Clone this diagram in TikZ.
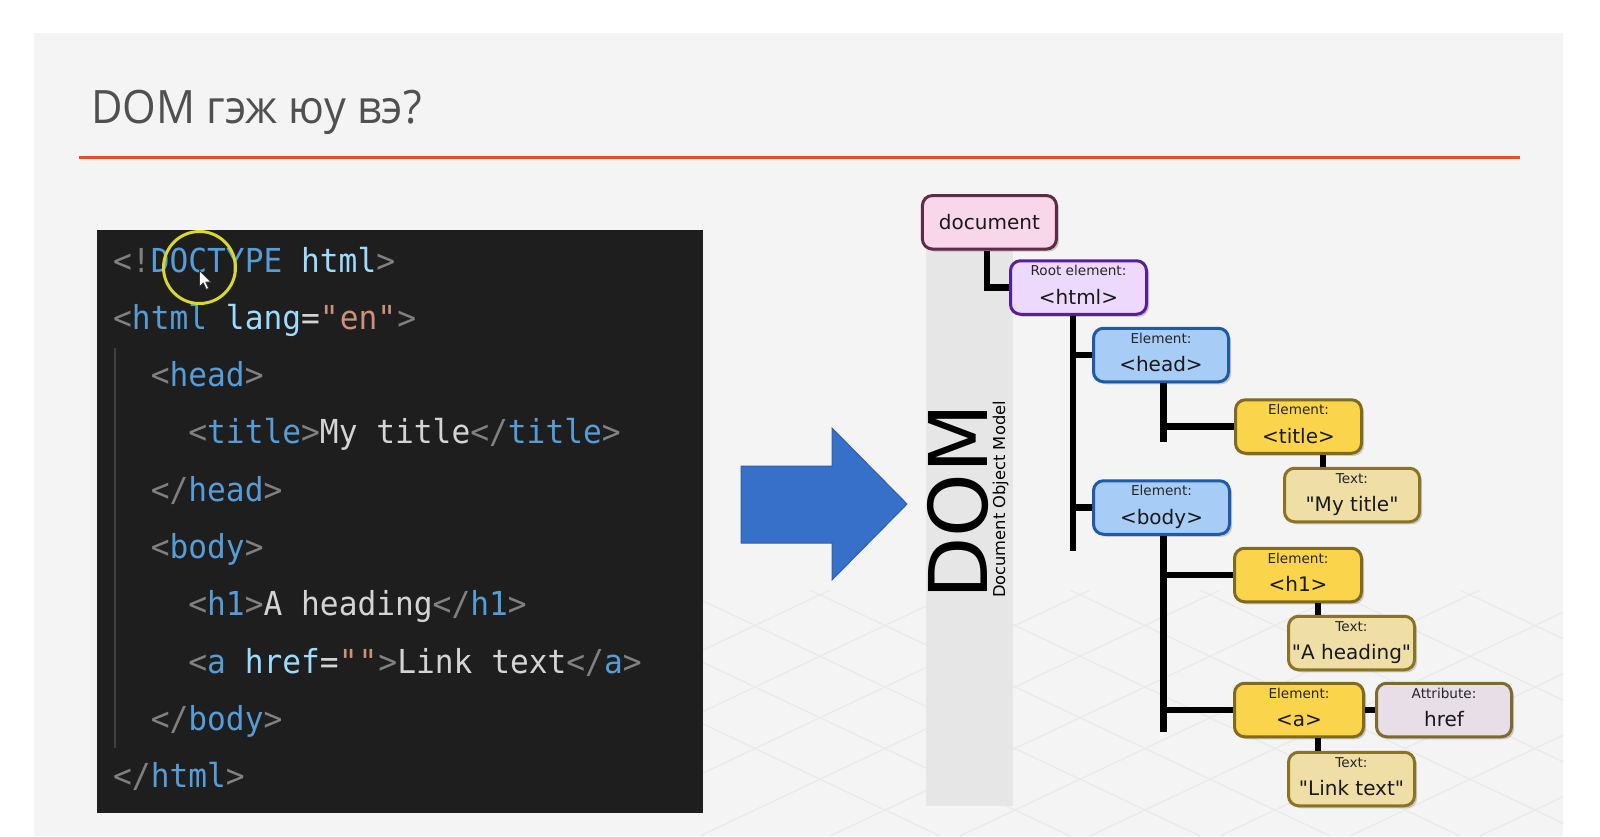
\documentclass[tikz,border=0pt]{standalone}
\usepackage{fontspec}
\usetikzlibrary{shadows}
\setmainfont{DejaVu Sans}
\newfontfamily\codefont[FakeStretch=0.946]{DejaVu Sans Mono}
\newfontfamily\titlefont[FakeStretch=0.94]{Open Sans}

% slide
\definecolor{slidebg}{HTML}{F4F4F4}
\definecolor{titlegray}{HTML}{505050}
\definecolor{rule}{HTML}{E2512C}
\definecolor{gridline}{HTML}{EAEAEA}
% editor
\definecolor{editorbg}{HTML}{1E1E1E}
\definecolor{guide}{HTML}{404040}
\definecolor{cpun}{HTML}{808080}
\definecolor{ctag}{HTML}{569CD6}
\definecolor{catt}{HTML}{9CDCFE}
\definecolor{cstr}{HTML}{CE9178}
\definecolor{ctxt}{HTML}{D4D4D4}
\definecolor{hilite}{HTML}{D8D82E}
% tree
\definecolor{docfill}{HTML}{F9D7EA}
\definecolor{docline}{HTML}{5F2B47}
\definecolor{rootfill}{HTML}{ECD9FB}
\definecolor{rootline}{HTML}{5B1E9A}
\definecolor{elfill}{HTML}{A7CDF7}
\definecolor{elline}{HTML}{1D5AA7}
\definecolor{yelfill}{HTML}{FAD54B}
\definecolor{yelline}{HTML}{7F6A1D}
\definecolor{txtfill}{HTML}{EFDFA6}
\definecolor{txtline}{HTML}{8A7424}
\definecolor{attfill}{HTML}{E7DEE8}
\definecolor{attline}{HTML}{7E6A2E}
\definecolor{band}{HTML}{E6E6E6}
\definecolor{arrowblue}{HTML}{3670C8}
\definecolor{arrowedge}{HTML}{2F5FAA}

% code colouring
\newcommand\cPun[1]{\textcolor{cpun}{#1}}
\newcommand\cTag[1]{\textcolor{ctag}{#1}}
\newcommand\cAtt[1]{\textcolor{catt}{#1}}
\newcommand\cStr[1]{\textcolor{cstr}{#1}}
\newcommand\cTxt[1]{\textcolor{ctxt}{#1}}
\newcommand\qq{\textquotedbl}

\tikzset{
  codeline/.style={anchor=base west, inner sep=0pt,
    font=\codefont\fontsize{33}{39}\selectfont, text=ctxt},
  treebox/.style={line width=3pt, rounded corners=10pt, minimum height=53.5pt,
    inner sep=0pt,
    drop shadow={shadow xshift=2.5pt, shadow yshift=-2.5pt, opacity=0.18, fill=black}},
  docbox/.style={treebox, fill=docfill, draw=docline},
  rootbox/.style={treebox, fill=rootfill, draw=rootline},
  elbox/.style={treebox, fill=elfill, draw=elline},
  yelbox/.style={treebox, fill=yelfill, draw=yelline},
  txtbox/.style={treebox, fill=txtfill, draw=txtline},
  attbox/.style={treebox, fill=attfill, draw=attline},
  smalllab/.style={anchor=base, inner sep=0pt,
    font=\fontsize{13.6}{16}\selectfont, text=black!85},
  biglab/.style={anchor=base, inner sep=0pt,
    font=\fontsize{20}{24}\selectfont, text=black!90},
  conn/.style={line width=6.5pt, black},
}

% box with a small caption line and a large content line
\newcommand\domnode[7]{%
  \node[#2, minimum width=#5] (#1) at (#3,#4) {};
  \node[smalllab] (#1-l) at ([yshift=-16.5pt]#1.north) {#6};
  \node[biglab] (#1-t) at ([yshift=-45pt]#1.north) {#7};
}

\begin{document}
\begin{tikzpicture}[x=1pt, y=-1pt]
\useasboundingbox (0,0) rectangle (1600,836);

% slide background
\fill[white] (0,0) rectangle (1600,836);
\fill[slidebg] (34,33) rectangle (1563,836);

% faint floor pattern
\begin{scope}
  \clip (690,590) rectangle (1563,836);
  \foreach \s in {0,...,12} {
    \draw[gridline, line width=1.2pt] (420+130*\s,590) -- ++(520,246);
    \draw[gridline, line width=1.2pt] (700+130*\s,590) -- ++(-520,246);
  }
\end{scope}

% heading
\node[anchor=base west, inner sep=0pt, font=\titlefont\fontsize{46}{50}\selectfont,
  text=titlegray] (heading) at (91,123) {DOM гэж юу вэ?};
\draw[rule, line width=3pt] (79,157) -- (1520,157);

% code editor
\fill[editorbg] (97,230) rectangle (703,813);
\draw[guide, line width=1.5pt] (115,348) -- (115,748);

\node[codeline] (c1) at (113,272.0) {\cPun{<!}\cTag{DOCTYPE} \cAtt{html}\cPun{>}};
\node[codeline] (c2) at (113,329.3) {\cPun{<}\cTag{html} \cAtt{lang}\cTxt{=}\cStr{\qq en\qq}\cPun{>}};
\node[codeline] (c3) at (150.6,386.6) {\cPun{<}\cTag{head}\cPun{>}};
\node[codeline] (c4) at (188.2,443.9) {\cPun{<}\cTag{title}\cPun{>}\cTxt{My title}\cPun{</}\cTag{title}\cPun{>}};
\node[codeline] (c5) at (150.6,501.2) {\cPun{</}\cTag{head}\cPun{>}};
\node[codeline] (c6) at (150.6,558.5) {\cPun{<}\cTag{body}\cPun{>}};
\node[codeline] (c7) at (188.2,615.8) {\cPun{<}\cTag{h1}\cPun{>}\cTxt{A heading}\cPun{</}\cTag{h1}\cPun{>}};
\node[codeline] (c8) at (188.2,673.1) {\cPun{<}\cTag{a} \cAtt{href}\cTxt{=}\cStr{\qq\qq}\cPun{>}\cTxt{Link text}\cPun{</}\cTag{a}\cPun{>}};
\node[codeline] (c9) at (150.6,730.4) {\cPun{</}\cTag{body}\cPun{>}};
\node[codeline] (c10) at (113,787.7) {\cPun{</}\cTag{html}\cPun{>}};

% pointer highlight
\draw[hilite, line width=3pt] (199.5,267.5) circle (36);
\filldraw[fill=white, draw=black!80, line width=0.8pt, line join=round]
  (199.5,270.5) -- ++(0,16) -- ++(3.8,-3.6) -- ++(3,6.5) -- ++(2.4,-1.1)
  -- ++(-3,-6.3) -- ++(5.2,0) -- cycle;

% block arrow
\filldraw[fill=arrowblue, draw=arrowedge, line width=1pt]
  (741,466) -- (832,466) -- (832,428) -- (907,504) -- (832,580)
  -- (832,543) -- (741,543) -- cycle;

% side band with the DOM caption
\fill[band] (926,250) rectangle (1013,806);
\node[rotate=90, anchor=base, inner sep=0pt, font=\fontsize{81}{90}\selectfont]
  (domword) at (987,501.5) {DOM};
\node[rotate=90, anchor=base, inner sep=0pt, font=\fontsize{16.3}{18}\selectfont]
  (domfull) at (1005,499.5) {Document Object Model};

% tree nodes
\node[docbox, minimum width=134pt, font=\fontsize{20}{24}\selectfont, text=black!90]
  (doc) at (989.4,222.3) {document};
\domnode{html}{rootbox}{1078.5}{287.5}{136pt}{Root element:}{<html>}
\domnode{head}{elbox}{1161}{355}{135pt}{Element:}{<head>}
\domnode{body}{elbox}{1161.5}{507.5}{136pt}{Element:}{<body>}
\domnode{ttl}{yelbox}{1298.5}{426.5}{126pt}{Element:}{<title>}
\domnode{ttltext}{txtbox}{1352}{495}{135pt}{Text:}{\qq My title\qq}
\domnode{hone}{yelbox}{1298}{575}{127pt}{Element:}{<h1>}
\domnode{honetext}{txtbox}{1351.5}{643}{126pt}{Text:}{\qq A heading\qq}
\domnode{anch}{yelbox}{1299}{710}{129pt}{Element:}{<a>}
\domnode{href}{attbox}{1444}{710}{135pt}{Attribute:}{href}
\domnode{anchtext}{txtbox}{1351.5}{779}{126pt}{Text:}{\qq Link text\qq}

% trunk ends and stem positions
\coordinate (docstem) at (987,0);
\coordinate (htmlend) at (1073,551);
\coordinate (headend) at (1163.5,442);
\coordinate (bodyend) at (1163.5,732);
\coordinate (ttlstem) at (1323,0);
\coordinate (leafstem) at (1318,0);

% connectors
\draw[conn] (doc.south -| docstem) |- (html.west);
\draw[conn] (html.south -| htmlend) -- (htmlend);
\draw[conn] (head.west -| htmlend) -- (head.west);
\draw[conn] (body.west -| htmlend) -- (body.west);
\draw[conn] (head.south -| headend) -- (headend);
\draw[conn] (ttl.west -| headend) -- (ttl.west);
\draw[conn] (ttl.south -| ttlstem) -- (ttltext.north -| ttlstem);
\draw[conn] (body.south -| bodyend) -- (bodyend);
\draw[conn] (hone.west -| bodyend) -- (hone.west);
\draw[conn] (anch.west -| bodyend) -- (anch.west);
\draw[conn] (hone.south -| leafstem) -- (honetext.north -| leafstem);
\draw[conn] (anch.south -| leafstem) -- (anchtext.north -| leafstem);
\draw[conn] (anch.east) -- (href.west);
\end{tikzpicture}
\end{document}
